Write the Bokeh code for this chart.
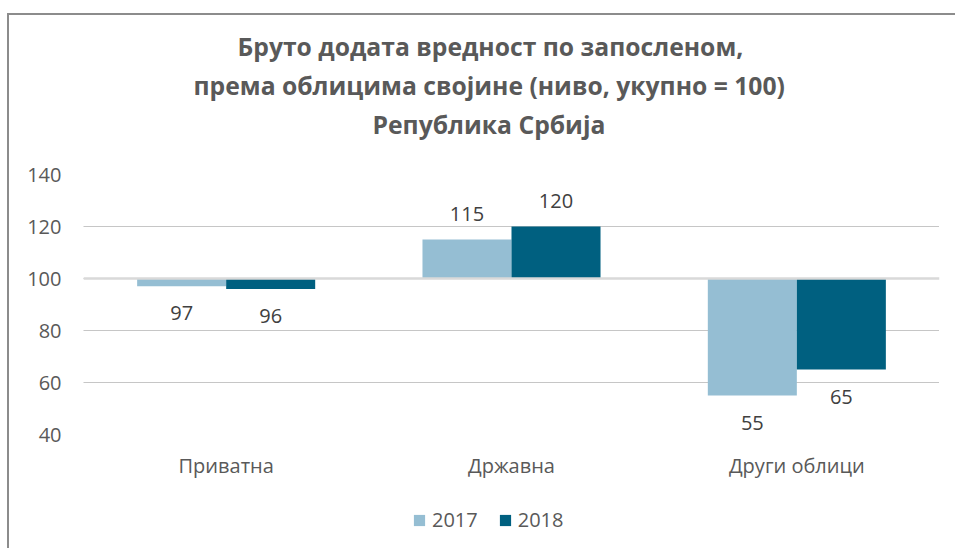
from bokeh.plotting import figure
from bokeh.layouts import column
from bokeh.models import (ColumnDataSource, FactorRange, Range1d, FixedTicker, Span,
                          Legend, LegendItem, Title)
from bokeh.transform import dodge
from bokeh.core.properties import value
from bokeh.embed import file_html
from bokeh.resources import INLINE

# ---- data ----
categories = ["Приватна", "Државна", "Други облици"]
years = ["2017", "2018"]
values_2017 = [97, 115, 55]
values_2018 = [96, 120, 65]
y_ticks = [40, 60, 80, 100, 120, 140]
baseline = 100
title_lines = [
    "Бруто додата вредност по запосленом,",
    "према облицима својине (ниво, укупно = 100)",
    "Република Србија",
]

# ---- styles ----
colors = ["#95bed3", "#006080"]
FONT = "Open Sans"
TXT = "#595959"
BAR_W = 0.312
title_offsets = [154, 110, 289]   # left offsets of the title lines (layout only)

src = ColumnDataSource(dict(
    cat=categories,
    v2017=values_2017,
    v2018=values_2018,
    base=[baseline] * len(categories),
    off2017=[-26 if v >= baseline else 27 for v in values_2017],
    off2018=[-26 if v >= baseline else 27 for v in values_2018],
    lab2017=[str(v) for v in values_2017],
    lab2018=[str(v) for v in values_2018],
))

p = figure(
    x_range=FactorRange(*categories, range_padding=0.0),
    y_range=Range1d(40, 140),
    width=955, height=492,
    output_backend="svg", toolbar_location=None,
    min_border_left=83, min_border_right=16, min_border_top=174, min_border_bottom=58,
)
p.outline_line_color = None
p.background_fill_color = "white"
p.border_fill_color = None

# spacer between plot area and titles
p.add_layout(Title(text=" ", text_font=FONT, text_font_size="10px", standoff=16), "above")
# titles (added innermost first)
for line, off in reversed(list(zip(title_lines, title_offsets))):
    t = Title(text=line, align="left", offset=off, text_font=FONT, text_font_size="24.7px",
              text_font_style="bold", text_color=TXT, standoff=4)
    p.add_layout(t, "above")

# bars
r1 = p.vbar(x=dodge("cat", -BAR_W / 2, range=p.x_range), top="v2017", bottom="base",
            width=BAR_W, source=src, fill_color=colors[0], line_color=None)
r2 = p.vbar(x=dodge("cat", BAR_W / 2, range=p.x_range), top="v2018", bottom="base",
            width=BAR_W, source=src, fill_color=colors[1], line_color=None)

# baseline line
p.add_layout(Span(location=baseline, dimension="width", line_color="#d9d9d9", line_width=2.7))

# labels
p.text(x=dodge("cat", -BAR_W / 2, range=p.x_range), y="v2017", text="lab2017", source=src,
       y_offset="off2017", text_align="center", text_baseline="middle",
       text_font=value(FONT), text_font_size="20px", text_color="#404040")
p.text(x=dodge("cat", BAR_W / 2, range=p.x_range), y="v2018", text="lab2018", source=src,
       y_offset="off2018", text_align="center", text_baseline="middle",
       text_font=value(FONT), text_font_size="20px", text_color="#404040")

# grid
p.xgrid.grid_line_color = None
p.ygrid.grid_line_color = "#8c8c8c"
p.ygrid.grid_line_dash = "1 1"
p.ygrid.grid_line_width = 1
p.yaxis.ticker = FixedTicker(ticks=y_ticks)

# axes
for ax in (p.xaxis, p.yaxis):
    ax.axis_line_color = None
    ax.major_tick_line_color = None
    ax.minor_tick_line_color = None
    ax.major_label_text_font = FONT
    ax.major_label_text_font_size = "20px"
    ax.major_label_text_color = TXT
p.yaxis.major_label_standoff = 16
p.xaxis.major_label_standoff = 11

# ---- legend in its own strip ----
leg_src = ColumnDataSource(dict(x=[-10], top=[-10]))
pl = figure(width=955, height=56, x_range=Range1d(0, 1), y_range=Range1d(0, 1),
            x_axis_location=None, y_axis_location=None,
            output_backend="svg", toolbar_location=None,
            min_border_left=0, min_border_right=0, min_border_top=0, min_border_bottom=0)
pl.grid.grid_line_color = None
pl.outline_line_color = None
pl.background_fill_color = None
pl.border_fill_color = None
g1 = pl.vbar(x="x", top="top", width=0.1, source=leg_src, fill_color=colors[0], line_color=None)
g2 = pl.vbar(x="x", top="top", width=0.1, source=leg_src, fill_color=colors[1], line_color=None)
legend = Legend(
    items=[LegendItem(label=years[0], renderers=[g1]), LegendItem(label=years[1], renderers=[g2])],
    orientation="horizontal", location=(329, 15),
    label_text_font=FONT, label_text_font_size="20px", label_text_color=TXT,
    glyph_width=14, glyph_height=14, label_standoff=6, spacing=20,
    border_line_color=None, background_fill_alpha=0, padding=4, margin=0,
)
pl.add_layout(legend, "center")

layout = column(p, pl, spacing=0)
layout.styles = {"box-shadow": "inset 0 13px 0 0 #ffffff, inset 7px 0 0 0 #ffffff, "
                               "inset 9px 15px 0 0 #8c8c8c",
                 "background-color": "#ffffff"}
open("out.html", "w").write(file_html(layout, INLINE))
